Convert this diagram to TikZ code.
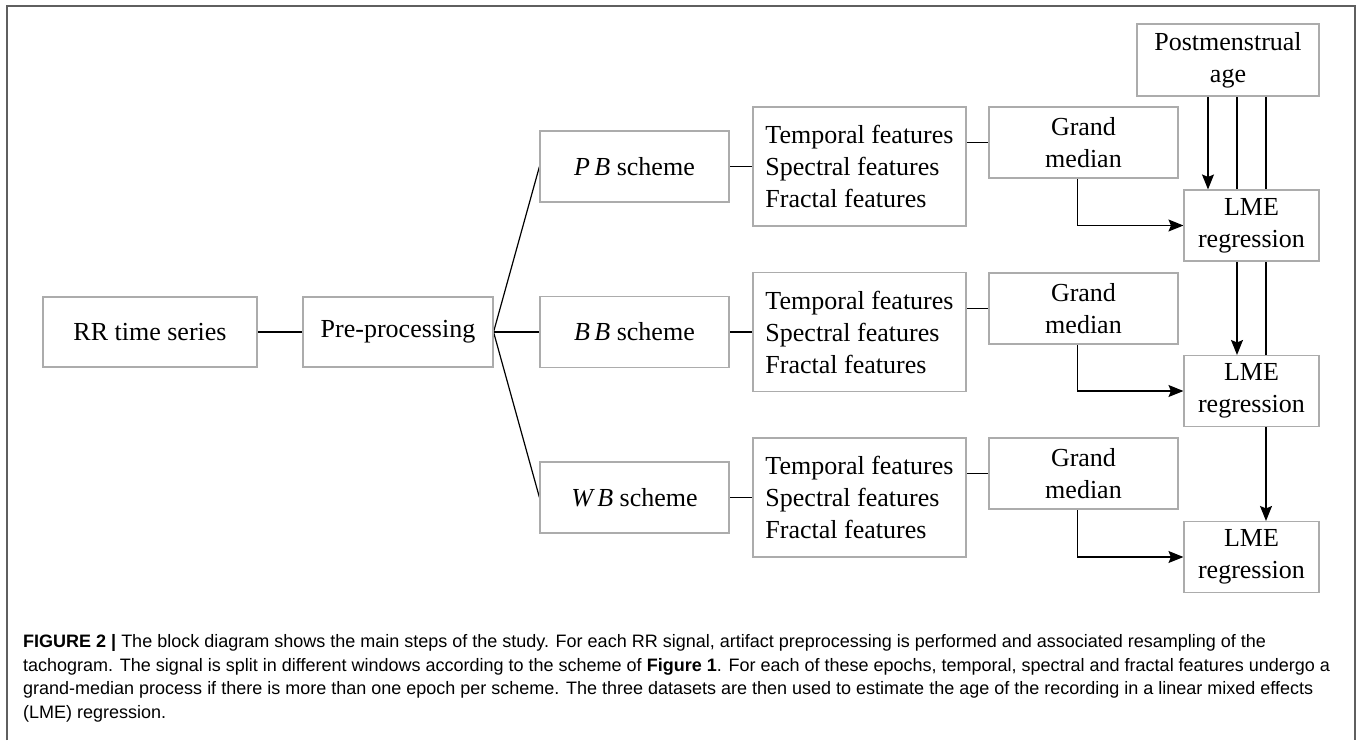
\documentclass[tikz,border=0pt]{standalone}
\usepackage{fontspec}
\setmainfont{Liberation Serif}
\newfontfamily\capfont{Liberation Sans}
\usetikzlibrary{arrows.meta,backgrounds}
\definecolor{boxgray}{RGB}{172,172,172}
\definecolor{framegray}{RGB}{95,95,95}
\begin{document}
\begin{tikzpicture}[x=1pt,y=-1pt,
  box/.style={draw=boxgray, line width=1.1pt, fill=white, inner sep=0pt,
    font=\fontsize{26}{32}\selectfont, align=center},
  feat/.style={box, align=left, minimum width=213, minimum height=119},
  sch/.style={box, minimum width=189, minimum height=71},
  gm/.style={box, minimum width=189, minimum height=71},
  lme/.style={box, minimum width=135, minimum height=71},
  conn/.style={draw=black, line width=1.2pt},
  arr/.style={conn, -{Stealth[length=15pt,width=12pt,inset=2.5pt]}},
  captext/.style={anchor=base west, inner sep=0pt, font=\capfont\fontsize{18}{22}\selectfont}
]
\useasboundingbox (0,0) rectangle (1360,740);
\draw[framegray, line width=1.7pt] (7,740) -- (7,6) -- (1355,6) -- (1355,740);

% nodes
\node[box, minimum width=214, minimum height=70] (rr) at (150,332) {RR time series};
\node[box, minimum width=190, minimum height=70] (pre) at (398,332) {Pre-processing};

\node[sch] (pb) at (634.5,166.5) {\textit{P\,B} scheme};
\node[sch] (bb) at (634.5,332) {\textit{B\,B} scheme};
\node[sch] (wb) at (634.5,497.5) {\textit{W\,B} scheme};

\node[feat] (t1) at (859.5,166.5) {Temporal features\\Spectral features\\Fractal features};
\node[feat] (t2) at (859.5,332) {Temporal features\\Spectral features\\Fractal features};
\node[feat] (t3) at (859.5,497.5) {Temporal features\\Spectral features\\Fractal features};

\node[gm] (gm1) at (1083.5,142.5) {Grand\\median};
\node[gm] (gm2) at (1083.5,308.5) {Grand\\median};
\node[gm] (gm3) at (1083.5,473.5) {Grand\\median};

\node[lme] (lme1) at (1251.5,225.5) {LME\\regression};
\node[lme] (lme2) at (1251.5,391) {LME\\regression};
\node[lme] (lme3) at (1251.5,557) {LME\\regression};

\node[box, minimum width=182, minimum height=72] (pma) at (1228,60) {Postmenstrual\\age};

\coordinate (pa) at ([xshift=-20pt]pma.south);
\coordinate (pbb) at ([xshift=9pt]pma.south);
\coordinate (pc) at ([xshift=38pt]pma.south);

% connectors
\begin{scope}[on background layer]
\draw[conn] (rr.east) -- (pre.west);
\draw[conn] (pre.east) -- (pb.west);
\draw[conn] (pre.east) -- (bb.west);
\draw[conn] (pre.east) -- (wb.west);
\draw[conn] (pb.east) -- (t1.west);
\draw[conn] (bb.east) -- (t2.west);
\draw[conn] (wb.east) -- (t3.west);
\draw[conn] (t1.east |- gm1.west) -- (gm1.west);
\draw[conn] (t2.east |- gm2.west) -- (gm2.west);
\draw[conn] (t3.east |- gm3.west) -- (gm3.west);
\draw[arr] ([xshift=-6pt]gm1.south) |- (lme1.west);
\draw[arr] ([xshift=-6pt]gm2.south) |- (lme2.west);
\draw[arr] ([xshift=-6pt]gm3.south) |- (lme3.west);
\draw[arr] (pa) -- (pa |- lme1.north);
\draw[arr] (pbb) -- (pbb |- lme2.north);
\draw[arr] (pc) -- (pc |- lme3.north);
\end{scope}

% caption
\node[captext] (c1) at (23,647) {\textbf{FIGURE 2 |} The block diagram shows the main steps of the study. For each RR signal, artifact preprocessing is performed and associated resampling of the};
\node[captext] (c2) at (23,671) {tachogram. The signal is split in different windows according to the scheme of \textbf{Figure 1}. For each of these epochs, temporal, spectral and fractal features undergo a};
\node[captext] (c3) at (23,694.5) {grand-median process if there is more than one epoch per scheme. The three datasets are then used to estimate the age of the recording in a linear mixed effects};
\node[captext] (c4) at (23,718) {(LME) regression.};
\end{tikzpicture}
\end{document}
